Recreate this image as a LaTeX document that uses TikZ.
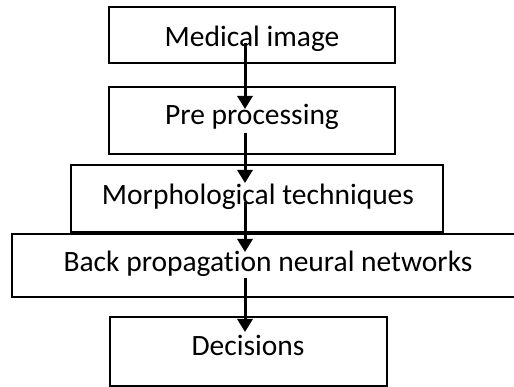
\documentclass[tikz,border=0pt]{standalone}
\usepackage{fontspec}
\setmainfont{Carlito}[Ligatures={NoCommon,NoRequired,NoContextual}]
\usetikzlibrary{arrows.meta}
\begin{document}
\begin{tikzpicture}[x=1pt,y=-1pt,
  box/.style={draw=black,line width=1.4pt,rectangle,inner sep=0pt},
  lbl/.style={anchor=base,inner sep=0pt,font=\fontsize{29.5}{34}\selectfont},
  flow/.style={line width=3pt,-{Triangle[width=15pt,length=13pt]}}]
\clip (0,0) rectangle (514,387);
\fill[white] (0,0) rectangle (514,387);
% boxes
\node[box,minimum width=286pt,minimum height=56pt] (b1) at (252,35) {};
\node[box,minimum width=286pt,minimum height=67pt] (b2) at (252,120.5) {};
\node[box,minimum width=372pt,minimum height=67pt] (b3) at (257,198.5) {};
\node[box,minimum width=518pt,minimum height=63pt] (b4) at (271,265.5) {};
\node[box,minimum width=277pt,minimum height=69pt] (b5) at (248.5,351.5) {};
% texts
\node[lbl] (t1) at (252,46.5) {Medical image};
\node[lbl] (t2) at (252,125) {Pre processing};
\node[lbl] (t3) at (258,205) {Morphological techniques};
\node[lbl] (t4) at (268,271.5) {Back propagation neural networks};
\node[lbl] (t5) at (248,355.5) {Decisions};
% arrow ends
\coordinate (s1) at (245,43);  \coordinate (e1) at (245,109);
\coordinate (s2) at (245,133); \coordinate (e2) at (245,183);
\coordinate (s3) at (245,202); \coordinate (e3) at (245,252);
\coordinate (s4) at (245,278); \coordinate (e4) at (245,332);
\draw[flow] (s1) -- (e1);
\draw[flow] (s2) -- (e2);
\draw[flow] (s3) -- (e3);
\draw[flow] (s4) -- (e4);
\end{tikzpicture}
\end{document}
